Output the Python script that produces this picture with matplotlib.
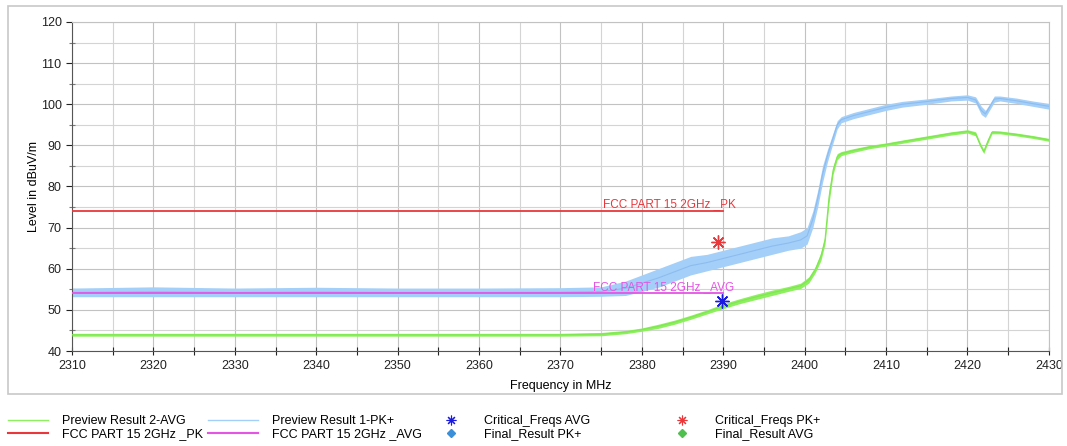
import matplotlib
matplotlib.use("Agg")
import matplotlib.pyplot as plt
from matplotlib.lines import Line2D
from matplotlib.patches import Rectangle

plt.rcParams['font.family'] = ['Liberation Sans', 'DejaVu Sans']

# Preview Result 1-PK+ : frequency (MHz), lower / upper edge of the noisy trace (dBuV/m)
pk_freq = [2310, 2320, 2330, 2340, 2350, 2360, 2370, 2375, 2378, 2380, 2382, 2384,
           2386, 2388, 2390, 2392, 2394, 2396, 2398, 2399.5, 2400.3, 2401, 2401.6,
           2402.2, 2402.8, 2403.4, 2404, 2404.5, 2406, 2408, 2410, 2412, 2415, 2418,
           2420, 2421, 2421.7, 2422.2, 2422.7, 2423.3, 2424, 2426, 2428, 2430]
pk_lo = [53.2, 53.2, 53.2, 53.2, 53.2, 53.2, 53.2, 53.3, 53.5, 54.5, 55.5, 57,
         58.5, 59.5, 60.5, 61.5, 62.5, 63.5, 64.5, 65, 66, 70, 75,
         81, 86, 90, 94, 95.5, 96.5, 97.5, 98.5, 99.3, 100, 100.8,
         101, 100.3, 97.5, 96.8, 98.5, 100.5, 100.8, 100.2, 99.5, 98.8]
pk_hi = [55.3, 55.6, 55.3, 55.5, 55.3, 55.3, 55.4, 55.6, 57, 58.5, 60, 61.5,
         63, 63.5, 64.5, 65.5, 66.5, 67.5, 68, 69, 70, 74, 79,
         85, 89, 92.5, 96, 97, 98, 99, 100, 100.7, 101.3, 102,
         102.3, 101.8, 99.5, 98.5, 100, 102, 102, 101.5, 100.8, 100.2]

# Preview Result 2-AVG
avg_freq = [2310, 2320, 2330, 2340, 2350, 2360, 2370, 2375, 2378, 2380, 2382, 2384,
            2386, 2388, 2390, 2392, 2394, 2396, 2398, 2399.5, 2400.5, 2401.3, 2402,
            2402.5, 2403, 2403.5, 2404, 2404.5, 2406, 2408, 2410, 2412, 2415, 2418,
            2420, 2421, 2421.6, 2422, 2422.5, 2423, 2424, 2426, 2428, 2430]
avg_lo = [43.6, 43.6, 43.6, 43.6, 43.6, 43.6, 43.6, 43.7, 44.2, 44.8, 45.5, 46.5,
          47.7, 49, 50.3, 51.5, 52.5, 53.5, 54.5, 55.2, 56.5, 59, 62,
          66, 76, 83, 86.5, 87.5, 88.3, 89.2, 89.8, 90.5, 91.5, 92.5,
          93, 92.3, 89.5, 88, 90.5, 92.8, 92.8, 92.3, 91.7, 91]
avg_hi = [44.3, 44.3, 44.3, 44.3, 44.3, 44.3, 44.3, 44.5, 45, 45.6, 46.5, 47.5,
          48.7, 50, 51.5, 52.7, 53.8, 54.8, 55.7, 56.5, 58, 60.5, 64,
          68, 79, 85, 88, 88.5, 89.2, 90, 90.6, 91.3, 92.3, 93.3,
          93.8, 93.3, 90.5, 89, 91.5, 93.6, 93.5, 93, 92.4, 91.7]

# limit lines
limit_freq = [2310, 2390]
limit_pk = [74, 74]
limit_avg = [54, 54]

# critical frequencies
crit_pk_f, crit_pk_v = [2389.3], [66.6]
crit_avg_f, crit_avg_v = [2389.9], [52.2]

c_pk = '#a4cff8'
c_avg = '#8ef060'
c_red = '#e8383c'
c_mag = '#e455e4'

fig = plt.figure(figsize=(10.67, 4.46), dpi=100)
ax = fig.add_axes([0.0675, 0.213, 0.9155, 0.7377])

ax.fill_between(pk_freq, pk_lo, pk_hi, color=c_pk, lw=0, zorder=2)
ax.plot(pk_freq, [(a + b) / 2 for a, b in zip(pk_lo, pk_hi)], color='#8cbcf0', lw=0.8, zorder=2)
ax.fill_between(avg_freq, avg_lo, avg_hi, color=c_avg, lw=0, zorder=3)
ax.plot(avg_freq, [(a + b) / 2 for a, b in zip(avg_lo, avg_hi)], color='#7fe650', lw=0.8, zorder=3)

ax.plot(limit_freq, limit_pk, color=c_red, lw=1.3, zorder=4)
ax.plot(limit_freq, limit_avg, color=c_mag, lw=1.3, zorder=4)
ax.text(2391.5, 74.3, 'FCC PART 15 2GHz _PK', color=c_red, fontsize=8.5, ha='right', va='bottom', zorder=5)
ax.text(2391.3, 54.2, 'FCC PART 15 2GHz _AVG', color=c_mag, fontsize=8.5, ha='right', va='bottom', zorder=5)

ax.plot(crit_pk_f, crit_pk_v, ls='none', marker=(8, 2, 0), ms=10, mec=c_red, mew=1.0, zorder=6)
ax.plot(crit_avg_f, crit_avg_v, ls='none', marker=(8, 2, 0), ms=10, mec='#1a1ae0', mew=1.0, zorder=6)

ax.set_xlim(2310, 2430)
ax.set_ylim(40, 120)
ax.set_xticks(range(2310, 2431, 10))
ax.set_xticks(range(2315, 2431, 10), minor=True)
ax.set_yticks(range(40, 121, 10))
ax.set_yticks(range(45, 121, 10), minor=True)
ax.grid(True, which='major', color='#c2c2c2', lw=0.8)
ax.grid(True, which='minor', color='#d4d4d4', lw=0.8)
ax.set_axisbelow(True)
ax.tick_params(axis='both', which='both', labelsize=9, colors='#222222')
ax.tick_params(axis='x', which='both', direction='inout', length=6, width=0.8)
ax.tick_params(axis='y', which='major', direction='out', length=4, width=0.8)
ax.tick_params(axis='y', which='minor', direction='inout', length=5, width=0.8, color='#777777')
for s in ['left', 'bottom']:
    ax.spines[s].set_color('#555555')
for s in ['top', 'right']:
    ax.spines[s].set_color('#c2c2c2')

ax.set_xlabel('Frequency in MHz', fontsize=9, labelpad=6)
ax.set_ylabel('Level in dBuV/m', fontsize=9, labelpad=0.5)

fig.patches.append(Rectangle((8 / 1067, 1 - 394 / 446), 1054 / 1067, 388 / 446,
                             transform=fig.transFigure, fill=False, ec='#c8c8c8', lw=1.2))

# legend, four columns
cols = [
    ([Line2D([], [], color=c_avg, lw=1), Line2D([], [], color=c_red, lw=1.5)],
     ['Preview Result 2-AVG', 'FCC PART 15 2GHz _PK'], 8, 3.2, 1.1),
    ([Line2D([], [], color=c_pk, lw=1), Line2D([], [], color=c_mag, lw=1.5)],
     ['Preview Result 1-PK+', 'FCC PART 15 2GHz _AVG'], 208, 4.0, 1.1),
    ([Line2D([], [], ls='none', marker=(8, 2, 0), ms=7, mec='#1a1ae0', mew=0.8),
      Line2D([], [], ls='none', marker='D', ms=4, color='#3a8fd8')],
     ['Critical_Freqs AVG', 'Final_Result PK+'], 445, 1.0, 2.1),
    ([Line2D([], [], ls='none', marker=(8, 2, 0), ms=7, mec=c_red, mew=0.8),
      Line2D([], [], ls='none', marker='D', ms=4, color='#4ec04e')],
     ['Critical_Freqs PK+', 'Final_Result AVG'], 676, 1.0, 2.1),
]
for handles, labels, x0, hl, tp in cols:
    fig.legend(handles, labels, loc='upper left', bbox_to_anchor=(x0 / 1067, 1 - 415 / 446),
               frameon=False, fontsize=9, handlelength=hl, handletextpad=tp,
               labelspacing=0.1, borderpad=0, borderaxespad=0)

fig.savefig('out.png', dpi=100)
